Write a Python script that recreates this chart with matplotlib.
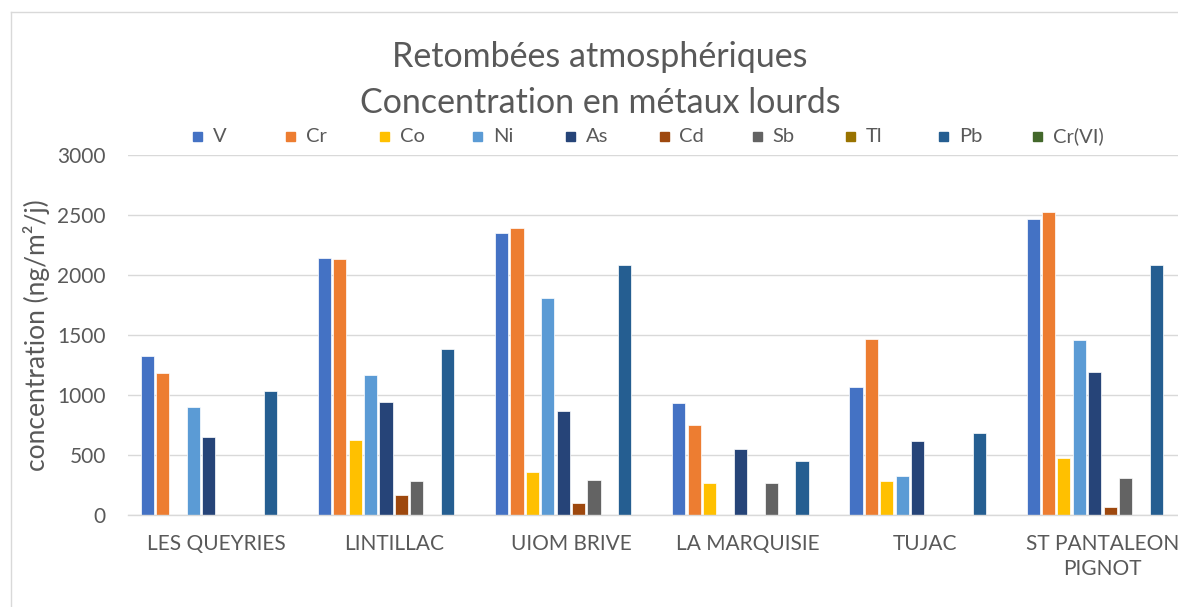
import numpy as np
import matplotlib
matplotlib.use("Agg")
import matplotlib.pyplot as plt
from matplotlib.patches import Rectangle
from matplotlib.lines import Line2D

plt.rcParams['font.family'] = ['Lato', 'DejaVu Sans']

sites = ["LES QUEYRIES", "LINTILLAC", "UIOM BRIVE", "LA MARQUISIE", "TUJAC",
         "ST PANTALEON\nPIGNOT"]
metals = ["V", "Cr", "Co", "Ni", "As", "Cd", "Sb", "Tl", "Pb", "Cr(VI)"]
colors = ["#4472C4", "#ED7D31", "#FFC000", "#5B9BD5", "#264478",
          "#9E480E", "#636363", "#997300", "#255E91", "#43682B"]

nan = np.nan
V    = [1325, 2142, 2350, 933, 1064, 2469]
Cr   = [1180, 2131, 2395, 747, 1467, 2525]
Co   = [nan, 622, 356, 267, 283, 472]
Ni   = [897, 1164, 1811, nan, 328, 1458]
As   = [647, 944, 864, 550, 617, 1192]
Cd   = [nan, 164, 97, nan, nan, 69]
Sb   = [nan, 281, 292, 267, nan, 306]
Tl   = [nan, nan, nan, nan, nan, nan]
Pb   = [1030, 1381, 2081, 450, 686, 2081]
CrVI = [nan, nan, nan, nan, nan, nan]
series = [V, Cr, Co, Ni, As, Cd, Sb, Tl, Pb, CrVI]

W, H = 1178, 607
fig = plt.figure(figsize=(W / 100, H / 100), dpi=100)
ax = fig.add_axes([128 / W, (H - 515) / H, (1191 - 128) / W, 360 / H])

txt = "#595959"
grid = "#D9D9D9"
x = np.arange(len(sites))
step = 0.0869
for i, (name, vals, c) in enumerate(zip(metals, series, colors)):
    ax.bar(x + (i - 4.5) * step, vals, width=0.074, color=c,
           edgecolor="white", linewidth=0.5, zorder=3, label=name)

ax.set_xlim(-0.5, len(sites) - 0.5)
ax.set_ylim(0, 3000)
ax.set_yticks(np.arange(0, 3001, 500))
ax.yaxis.grid(True, color=grid, linewidth=1.0, zorder=0)
ax.set_axisbelow(True)
for s in ["top", "right", "left"]:
    ax.spines[s].set_visible(False)
ax.spines["bottom"].set_color(grid)
ax.spines["bottom"].set_linewidth(1.0)
ax.spines["bottom"].set_zorder(4)
ax.set_xticks(x)
ax.set_xticklabels(sites, linespacing=1.3)
ax.tick_params(axis="both", length=0, labelcolor=txt, labelsize=15)
ax.tick_params(axis="y", pad=16)
ax.tick_params(axis="x", pad=14)

# titles
fig.text(600 / W, 1 - 67 / H, "Retombées atmosphériques", ha="center",
         va="baseline", fontsize=24.5, color=txt)
fig.text(600 / W, 1 - 113 / H, "Concentration en métaux lourds", ha="center",
         va="baseline", fontsize=24.5, color=txt)

# y label
fig.text(37 / W, 1 - 335 / H, "concentration (ng/m²/j)", rotation=90,
         ha="center", va="center", fontsize=19, color=txt)

# legend (Excel style equal slots)
for i, (name, c) in enumerate(zip(metals, colors)):
    x0 = 193 + 93.3 * i
    fig.patches.append(Rectangle((x0 / W, 1 - 141 / H), 9 / W, 9 / H,
                                 transform=fig.transFigure, color=c))
    fig.text((x0 + 20) / W, 1 - 136.5 / H, name, ha="left", va="center",
             fontsize=14.5, color=txt)

# chart area border
fig.add_artist(Line2D([11 / W, 11 / W], [0, 1 - 12 / H], color=grid,
                      linewidth=1.0, transform=fig.transFigure))
fig.add_artist(Line2D([11 / W, 1], [1 - 12 / H, 1 - 12 / H], color=grid,
                      linewidth=1.0, transform=fig.transFigure))

fig.savefig("out.png", dpi=100, facecolor="white")
